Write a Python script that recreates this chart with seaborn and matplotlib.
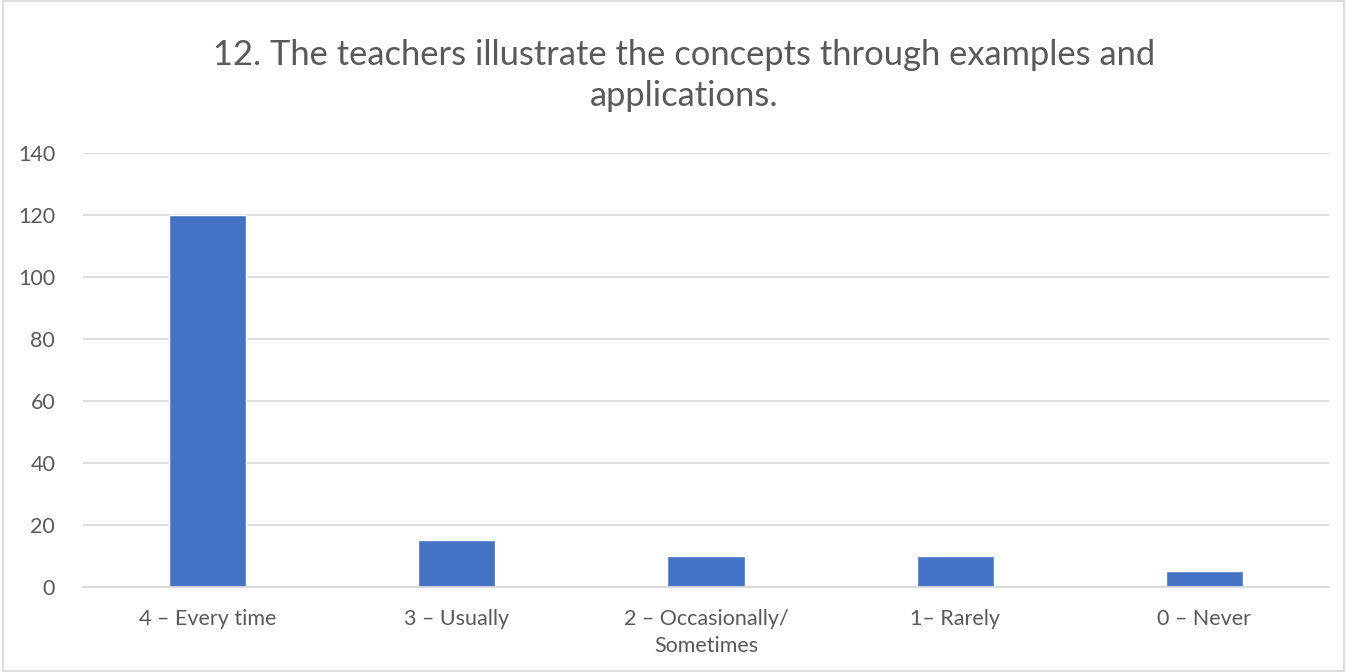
import matplotlib
matplotlib.use('Agg')
import matplotlib.pyplot as plt
import seaborn as sns
from matplotlib.patches import Rectangle

# survey answers for question 12
categories = ['4 – Every time', '3 – Usually', '2 – Occasionally/\nSometimes',
              '1– Rarely', '0 – Never']
counts = [120, 15, 10, 10, 5]
y_ticks = [0, 20, 40, 60, 80, 100, 120, 140]
title = '12. The teachers illustrate the concepts through examples and\napplications.'

sns.set_style('white')
plt.rcParams['font.family'] = ['Lato', 'DejaVu Sans']

fig = plt.figure(figsize=(13.47, 6.72), dpi=100)
ax = fig.add_axes([0.0616, 0.1265, 0.925, 0.6458])

sns.barplot(x=categories, y=counts, color='#4472C4', saturation=1,
            width=0.31, ax=ax)

ax.set_ylim(0, 140)
ax.set_yticks(y_ticks)
ax.set_xlim(-0.5, len(categories) - 0.5)
ax.yaxis.grid(True, color='#d9d9d9', linewidth=1.3)
ax.set_axisbelow(True)
for side in ['top', 'right', 'left']:
    ax.spines[side].set_visible(False)
ax.spines['bottom'].set_color('#d9d9d9')
ax.spines['bottom'].set_linewidth(1.3)
ax.tick_params(axis='both', length=0, labelsize=15.5, colors='#595959')
ax.tick_params(axis='x', pad=16)
ax.tick_params(axis='y', pad=20)
ax.set(xlabel='', ylabel='')
for lbl in ax.get_xticklabels():
    lbl.set_linespacing(1.45)

fig.text(0.508, 0.888, title, ha='center', va='center', fontsize=24.8,
         color='#595959', linespacing=1.35)

# light frame round the whole chart
fig.patches.append(Rectangle((0.002, 0.002), 0.996, 0.996, transform=fig.transFigure,
                             fill=False, edgecolor='#d9d9d9', linewidth=1.3))

fig.savefig('out.png', dpi=100, facecolor='white')
